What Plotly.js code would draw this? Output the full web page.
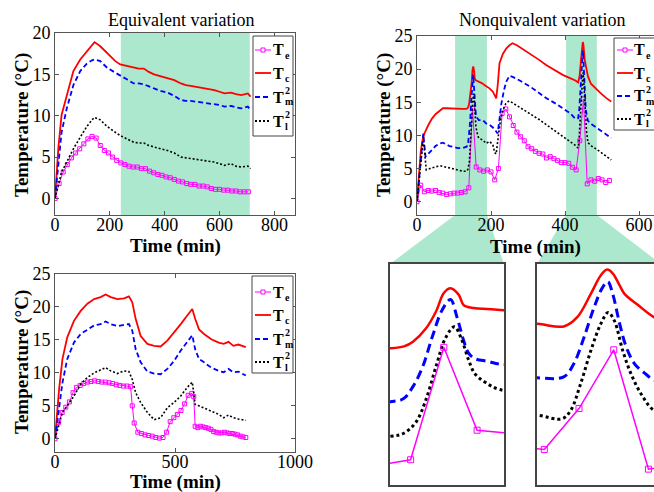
<!DOCTYPE html>
<html><head><meta charset="utf-8">
<script src="https://cdn.plot.ly/plotly-3.0.1.min.js"></script>
<style>html,body{margin:0;padding:0;background:#fff}#chart{width:654px;height:492px}</style>
</head><body><div id="chart"></div>
<script>
// ---------- Equivalent variation ----------
const eqTime = [0,12,24,43,67,92,116,135,144,165,190,220,238,262,287,305,324,342,361,385,410,435,459,477,495,514,532,556,581,600,618,642,660,679,703,713];
const eqTc = [0,6.0,10.1,12.5,15.4,16.8,17.8,18.6,18.9,18.4,17.6,16.6,16.2,16.0,15.8,15.7,15.7,15.3,15.0,14.8,14.6,14.3,13.9,13.7,13.6,13.5,13.4,13.2,13.1,12.9,12.7,12.8,12.6,12.5,12.7,12.3];
const eqTm = [0,4.0,8.0,10.9,13.7,15.4,16.3,16.7,16.8,16.6,15.8,15.2,14.9,14.4,13.9,13.9,13.8,13.6,13.3,13.0,12.8,12.4,11.9,11.8,11.8,11.7,11.6,11.5,11.4,11.3,11.1,11.2,11.0,10.9,11.1,10.7];
const eqTl = [0,1.7,3.2,4.4,6.0,7.4,8.7,9.5,9.8,9.5,8.7,8.0,7.6,7.2,6.8,6.7,6.7,6.4,6.2,6.0,5.8,5.5,5.0,4.9,4.8,4.7,4.6,4.5,4.4,4.2,4.0,4.2,3.9,3.8,3.9,3.6];
const eqTimeE = [0,15,30,45,60,75,90,105,120,135,150,165,180,195,210,225,240,255,270,285,300,315,330,345,360,375,390,405,420,435,450,465,480,495,510,525,540,555,570,585,600,615,630,645,660,675,690,705];
const eqTe = [0,1.8,3.2,4.1,4.9,5.5,6.0,6.6,7.2,7.5,7.3,6.4,5.8,5.5,5.0,4.6,4.3,4.1,3.9,3.8,3.8,3.6,3.6,3.3,3.1,2.9,2.8,2.6,2.5,2.3,2.1,2.0,1.8,1.7,1.7,1.5,1.5,1.4,1.2,1.1,1.1,1.0,1.0,0.9,0.9,0.8,0.8,0.8];
const eqShade = [240, 710];

// ---------- Nonquivalent variation ----------
const neqTimeC = [0,5,10,15,20,30,40,50,60,70,80,100,120,134,138,140.7,144.6,147.6,150,152,154.5,156,159,163,167,175,185,196,205,214,218,223,232,241,250,258,270,290,305,330,350,375,395,415,428,435.6,439.5,443.4,446.3,448.1,449.7,451.7,453.1,457,462,470,480,494,510,525];
const neqTc = [0,4,7.5,9.3,10.3,11.5,12.5,13.2,13.7,14.1,14.1,14,14,14,14.2,14.7,16.1,17.9,19.9,20.4,19.7,18.6,18.3,18.2,18.1,17.9,17.5,17.1,16.6,15.6,17.5,20.9,22.3,23.1,23.6,23.9,23.6,22.9,22.4,21.4,20.6,19.8,19.1,18.6,18.3,18.0,19.0,21.5,23.5,24.1,23.7,22.4,21.5,20.3,18.9,17.8,17.2,16.5,15.7,15.1];
const neqTimeM = [0,5,10,15,17,20,23,30,40,50,61,70,88,110,124,134,137.8,140.7,143.6,146.6,149.5,152,153.9,155.9,157.4,159.3,163.3,167,178,187,196,205,214,218,223,228,235,241,250,260,280,305,330,350,375,395,415,428,435.6,438.5,441.5,444.4,446.8,448.3,449.7,451.7,453.6,456,458.9,462,472,486,500,525];
const neqTm = [0,3,6,9.5,10.3,8.5,6.8,7.2,7.8,8.4,8.8,8.9,8.4,8.1,8.1,8.3,8.6,9.9,12,15.3,18.1,19.2,17.4,14.9,13.5,12.9,12.6,12.3,12.3,11.8,11.6,11.2,10.6,10.3,12.5,14.8,16.8,18.1,19,18.8,18.2,17.4,16.4,15.6,14.8,14.1,13.3,12.5,12.6,14,16.9,20.1,22.2,22.8,21.5,18.3,15.8,14,13,12.2,11.7,11.2,10.6,9.6];
const neqTimeL = [0,5,10,15,18,22,25,35,52,65,80,106,125,134,137.8,141.6,144.6,147.6,150.5,153.2,155.4,157.4,159.3,162.3,166.7,178,187,196,205,210,214,220,226,232,240,246,250,270,305,330,350,375,395,415,428,435.1,437.6,440.5,443.4,446.3,448.4,450.2,452.6,455,458,462,472,486,500,525];
const neqTl = [0,3,6,8.5,9.1,6,4.8,5,5.3,5.4,5.2,4.8,4.6,4.6,4.9,6.1,8.5,12,15.1,16.3,14.9,12.8,11.3,10.4,9.6,9.3,8.8,9.1,8.6,7.4,7.2,10,12.5,13.8,14.8,15.1,15.2,14.5,13.3,12.4,11.6,10.6,9.8,9.1,8.5,8.1,9,11.9,15.4,18.3,19.5,18.6,15.4,12.9,10.7,8.9,8.4,7.9,7.3,6.3];
const neqTimeE = [0,10,20,30,40,50,60,70,80,90,100,110,120,130,140,150,160,170,180,190,200,210,220,230,240,250,260,270,280,290,300,310,320,330,340,350,360,370,380,390,400,410,420,430,440,450,460,470,480,490,500,510,520];
const neqTe = [0,2.5,1.5,1.7,1.6,1.7,1.4,1.3,1.1,1.2,1.3,1.3,1.4,1.5,2.1,14.1,5.25,4.8,4.6,4.8,4.5,3.3,5,13.3,14,12.8,11.5,10.5,9.8,9.2,8.3,8,7.6,7.3,7.2,6.6,6.8,6.5,6.2,5.9,5.9,5.8,5.2,4.8,9.2,15.5,2.7,3.3,3.1,3.5,3.3,2.9,3.2];
const neqShade = [[103,189],[403,486]];
const zoom1Range = [133.8,168.1], zoom1Y = [-0.6,23];
const zoom2Range = [427.9,461.6], zoom2Y = [1.0,24.7];

// ---------- Third experiment ----------
const ccTime = [0,17,31,51,79,107,135,163,190,211,232,260,288,308,322,336,357,385,413,440,468,496,524,551,572,584,600,621,651,682,703,723,743,764,795];
const ccTc = [0,7.5,12.1,15.4,17.9,19.4,20.5,21.2,21.5,21.9,21.5,21.2,21.3,21.6,20.7,18.2,15.6,14.4,14.1,14,14.9,16.1,17.4,18.7,19.7,18.2,16.6,15.9,15.1,14.6,14.4,14.7,14.1,14.3,13.9];
const ccTm = [0,5,8.5,12.1,14.6,15.9,16.6,17.2,17.4,17.8,17.4,17.1,17.3,17.4,16.4,13.6,11.6,10.2,9.9,9.8,10.6,11.8,13.4,14.6,15.7,13.6,12.1,11.6,10.8,10.3,10.1,10.6,10.1,10.2,9.6];
const ccTl = [0,2.4,4,5,6.5,8.3,9.3,10,10.5,10.8,10.3,9.9,10.3,10.2,9,7,5.5,4,2.9,3.2,4.7,5.5,6.5,7.8,8.6,5.2,5,4.7,4.2,3.7,3.2,3.6,3.2,3,2.8];
const ccTimeE = [0,15,30,45,60,75,90,105,120,135,150,165,180,195,210,225,240,255,270,285,300,315,322,330,345,360,375,390,405,420,435,450,465,480,495,510,525,540,555,570,578,584,595,606,617,628,639,650,661,672,683,695,706,717,728,739,750,761,772,783,795];
const ccTe = [0,2.5,4.0,4.8,5.6,7.0,7.8,8.1,8.4,8.6,8.7,8.8,8.7,8.6,8.6,8.5,8.4,8.2,8.1,8.0,8.0,7.9,5.0,2.4,1.0,0.8,0.6,0.5,0.4,0.2,0.1,0.2,1.0,2.6,3.2,3.7,4.3,5.3,6.6,6.9,6.4,1.9,1.7,1.9,1.8,1.7,1.6,1.4,1.1,1.0,0.9,0.9,1.0,0.9,0.8,0.8,0.7,0.6,0.4,0.3,0.2];

// legend labels: [base, subscript, superscript]
const legendLabels = [['T','e',''],['T','c',''],['T','m','2'],['T','l','2']];
const seriesNames = ['Te','Tc','Tm2','Tl2'];

// ---------- layout helpers ----------
const W = 654, H = 492;
const FONT = '"Times New Roman", "Liberation Serif", Times, serif';
const GREEN = 'rgb(172,232,205)';
const COLORS = ['#ff00ff','#ff0000','#0000ff','#000000'];
const DASH = ['solid','solid','5px,3px','2px,2px'];
const px = v => v / W, py = v => 1 - v / H;
const dx = (a,b) => [px(a), px(b)];
const dy = (t,b) => [py(b), py(t)];

function series(xs, ys, kind, xa, ya, zoomed) {
  const base = {x: xs, y: ys, type: 'scatter', xaxis: xa, yaxis: ya, name: seriesNames[kind],
    showlegend: false, hoverinfo: 'skip'};
  if (kind === 0) return Object.assign(base, {mode: 'lines+markers',
    line: {color: COLORS[0], width: zoomed ? 1.5 : 1},
    marker: {symbol: 'square-open', size: zoomed ? 6 : 4, color: COLORS[0], line: {width: 1, color: COLORS[0]}}});
  if (kind === 1) return Object.assign(base, {mode: 'lines', line: {color: COLORS[1], width: zoomed ? 2.5 : 1.8, shape: zoomed ? 'spline' : 'linear'}});
  if (kind === 2) return Object.assign(base, {mode: 'lines', line: {color: COLORS[2], width: zoomed ? 3 : 1.8, dash: zoomed ? '9px,5px' : DASH[2], shape: zoomed ? 'spline' : 'linear'}});
  return Object.assign(base, {mode: 'lines', line: {color: COLORS[3], width: zoomed ? 3 : 1.6, dash: zoomed ? '3px,3px' : DASH[3], shape: zoomed ? 'spline' : 'linear'}});
}

const traces = [
  series(eqTimeE, eqTe, 0, 'x', 'y'), series(eqTime, eqTc, 1, 'x', 'y'),
  series(eqTime, eqTm, 2, 'x', 'y'), series(eqTime, eqTl, 3, 'x', 'y'),
  series(neqTimeE, neqTe, 0, 'x2', 'y2'), series(neqTimeC, neqTc, 1, 'x2', 'y2'),
  series(neqTimeM, neqTm, 2, 'x2', 'y2'), series(neqTimeL, neqTl, 3, 'x2', 'y2'),
  series(ccTimeE, ccTe, 0, 'x3', 'y3'), series(ccTime, ccTc, 1, 'x3', 'y3'),
  series(ccTime, ccTm, 2, 'x3', 'y3'), series(ccTime, ccTl, 3, 'x3', 'y3'),
  series(neqTimeC, neqTc, 1, 'x4', 'y4', true), series(neqTimeM, neqTm, 2, 'x4', 'y4', true),
  series(neqTimeL, neqTl, 3, 'x4', 'y4', true), series(neqTimeE, neqTe, 0, 'x4', 'y4', true),
  series(neqTimeC, neqTc, 1, 'x5', 'y5', true), series(neqTimeM, neqTm, 2, 'x5', 'y5', true),
  series(neqTimeL, neqTl, 3, 'x5', 'y5', true), series(neqTimeE, neqTe, 0, 'x5', 'y5', true)
];

const tickFont = {family: FONT, size: 18, color: '#000'};
function xax(domain, range, tickvals, anchor, mirror) {
  return {domain, range, tickvals, anchor, ticks: 'inside', ticklen: 4, tickcolor: '#555',
    showline: true, linecolor: '#555', linewidth: 1, mirror: mirror, showgrid: false, zeroline: false,
    tickfont: tickFont, automargin: false, fixedrange: true, ticklabelstandoff: -7};
}
function yax(domain, range, tickvals, anchor, mirror) {
  return {domain, range, tickvals, anchor, ticks: 'inside', ticklen: 4, tickcolor: '#555',
    showline: true, linecolor: '#555', linewidth: 1, mirror: mirror, showgrid: false, zeroline: false,
    tickfont: tickFont, automargin: false, fixedrange: true};
}
function boxax(domain, range, anchor, mirror) {
  return {domain, range, anchor, showline: true, linecolor: '#444', linewidth: 1.8, mirror: mirror,
    showticklabels: false, ticks: '', showgrid: false, zeroline: false, automargin: false, fixedrange: true};
}

const X1 = dx(55,295), Y1 = dy(33,215);
const X2 = dx(417,654), Y2 = dy(36,215);
const X3 = dx(55,295), Y3 = dy(274,452);
const X4 = dx(390,504), Y4 = dy(264,485);
const X5 = dx(537,654), Y5 = dy(264,485);
const x2Range = [0, 640.5];
function px2(v) { return X2[0] + (v - x2Range[0]) / (x2Range[1] - x2Range[0]) * (X2[1] - X2[0]); }

const shapes = [
  {type: 'rect', xref: 'x', yref: 'y domain', x0: eqShade[0], x1: eqShade[1], y0: 0, y1: 1, fillcolor: GREEN, line: {width: 0}, layer: 'below'},
  {type: 'rect', xref: 'x2', yref: 'y2 domain', x0: neqShade[0][0], x1: neqShade[0][1], y0: 0, y1: 1, fillcolor: GREEN, line: {width: 0}, layer: 'below'},
  {type: 'rect', xref: 'x2', yref: 'y2 domain', x0: neqShade[1][0], x1: neqShade[1][1], y0: 0, y1: 1, fillcolor: GREEN, line: {width: 0}, layer: 'below'},
  {type: 'path', xref: 'paper', yref: 'paper', fillcolor: GREEN, line: {width: 0}, layer: 'below',
    path: `M${px2(neqShade[0][0])},${Y2[0]} L${px2(neqShade[0][1])},${Y2[0]} L${X4[1]},${Y4[1]} L${X4[0]},${Y4[1]} Z`},
  {type: 'path', xref: 'paper', yref: 'paper', fillcolor: GREEN, line: {width: 0}, layer: 'below',
    path: `M${px2(neqShade[1][0])},${Y2[0]} L${px2(neqShade[1][1])},${Y2[0]} L${px(661)},${Y5[1]} L${X5[0]},${Y5[1]} Z`}
];
const annotations = [
  {xref: 'paper', yref: 'paper', x: px(181), y: py(20), text: 'Equivalent variation', showarrow: false,
    font: {family: FONT, size: 18, color: '#000'}, xanchor: 'center', yanchor: 'middle'},
  {xref: 'paper', yref: 'paper', x: px(542), y: py(20), text: 'Nonquivalent variation', showarrow: false,
    font: {family: FONT, size: 18, color: '#000'}, xanchor: 'center', yanchor: 'middle'}
];
// axis titles
[[175,246],[535,247],[175,482]].forEach(p => annotations.push({xref: 'paper', yref: 'paper', x: px(p[0]), y: py(p[1]),
  text: 'Time (min)', showarrow: false, xanchor: 'center', yanchor: 'middle', borderpad: 0,
  font: {family: FONT, size: 19, color: '#000', weight: 'bold'}}));
[[22,125],[384,125],[22,362]].forEach(p => annotations.push({xref: 'paper', yref: 'paper', x: px(p[0]), y: py(p[1]),
  text: 'Temperature (°C)', textangle: -90, showarrow: false, xanchor: 'center', yanchor: 'middle',
  font: {family: FONT, size: 19, color: '#000', weight: 'bold'}}));

// hand-drawn MATLAB-style legend boxes
function addLegend(box, rows, lx0, lx1, tx) {
  shapes.push({type: 'rect', xref: 'paper', yref: 'paper', x0: px(box[0]), x1: px(box[2]), y0: py(box[3]), y1: py(box[1]),
    fillcolor: '#fff', line: {color: '#444', width: 1}, layer: 'above'});
  rows.forEach((yy, k) => {
    shapes.push({type: 'line', xref: 'paper', yref: 'paper', x0: px(lx0), x1: px(lx1), y0: py(yy), y1: py(yy),
      line: {color: COLORS[k], width: k === 0 ? 1 : 1.8, dash: DASH[k]}, layer: 'above'});
    if (k === 0) {
      const mx = (lx0 + lx1) / 2;
      shapes.push({type: 'rect', xref: 'paper', yref: 'paper', x0: px(mx-2), x1: px(mx+2), y0: py(yy+2), y1: py(yy-2),
        fillcolor: '#fff', line: {color: COLORS[0], width: 1}, layer: 'above'});
    }
    const lab = legendLabels[k];
    annotations.push({xref: 'paper', yref: 'paper', x: px(tx), y: py(yy), text: lab[0], showarrow: false, borderpad: 0,
      xanchor: 'left', yanchor: 'middle', font: {family: FONT, size: 16, color: '#000', weight: 'bold'}});
    annotations.push({xref: 'paper', yref: 'paper', x: px(tx + 11.5), y: py(yy + 5), text: lab[1], showarrow: false,
      borderpad: 0, xanchor: 'left', yanchor: 'middle', font: {family: FONT, size: 10, color: '#000', weight: 'bold'}});
    if (lab[2]) annotations.push({xref: 'paper', yref: 'paper', x: px(tx + 11.5), y: py(yy - 6.5), text: lab[2], showarrow: false,
      borderpad: 0, xanchor: 'left', yanchor: 'middle', font: {family: FONT, size: 10, color: '#000', weight: 'bold'}});
  });
}
addLegend([253,36,293,136], [50,73,97,121], 255, 271, 272);
addLegend([614,38,700,130], [50,73,96,119], 617, 633, 633);
addLegend([252,276,293,373], [292,315,339,362], 255, 271, 272);

const layout = {
  width: W, height: H, margin: {l: 0, r: 0, t: 0, b: 0, autoexpand: false},
  paper_bgcolor: '#fff', plot_bgcolor: 'rgba(0,0,0,0)', showlegend: false, hovermode: false,
  xaxis: xax(X1, [0, 875], [0,200,400,600,800], 'y', 'ticks'),
  yaxis: yax(Y1, [-2, 20], [0,5,10,15,20], 'x', 'ticks'),
  xaxis2: xax(X2, x2Range, [0,200,400,600], 'y2', 'ticks'),
  yaxis2: yax(Y2, [-2, 25], [0,5,10,15,20,25], 'x2', false),
  xaxis3: xax(X3, [0, 1000], [0,500,1000], 'y3', 'ticks'),
  yaxis3: yax(Y3, [-2, 25], [0,5,10,15,20,25], 'x3', 'ticks'),
  xaxis4: boxax(X4, zoom1Range, 'y4', true),
  yaxis4: boxax(Y4, zoom1Y, 'x4', true),
  xaxis5: boxax(X5, zoom2Range, 'y5', true),
  yaxis5: boxax(Y5, zoom2Y, 'x5', false),
  shapes: shapes,
  annotations: annotations
};

Plotly.newPlot('chart', traces, layout, {displayModeBar: false, staticPlot: true});
</script></body></html>
